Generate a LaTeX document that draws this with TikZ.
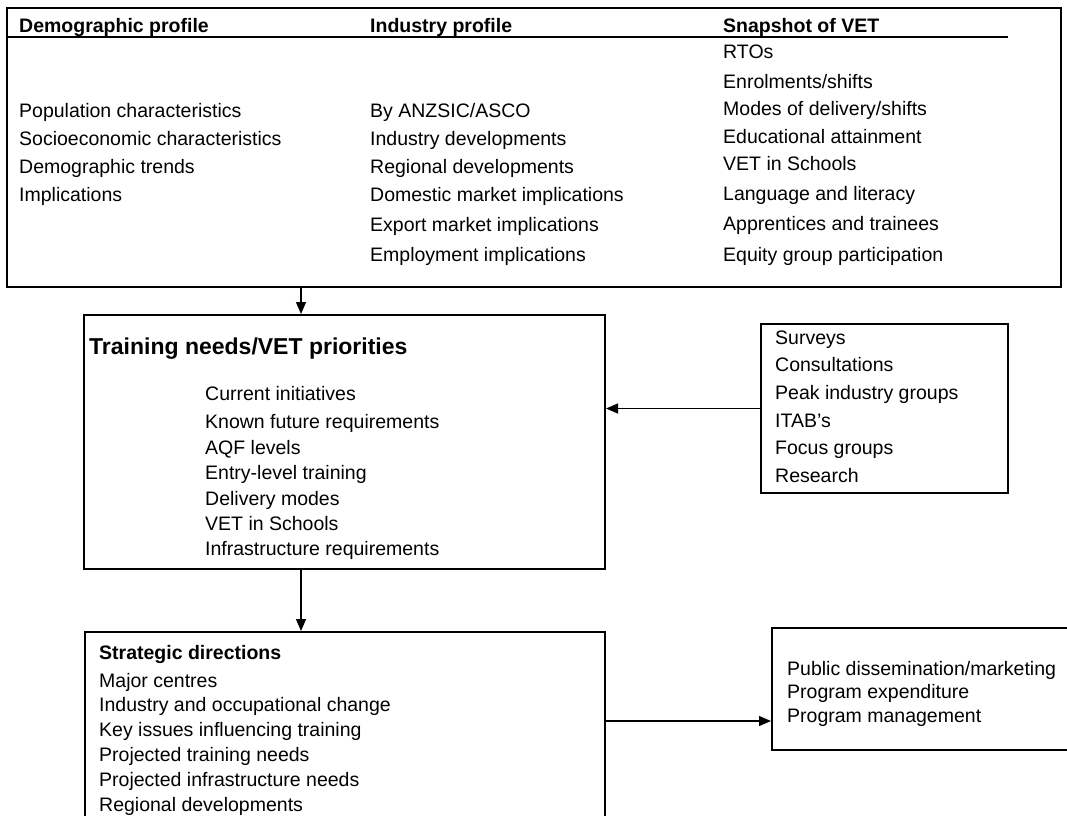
\documentclass[tikz,border=0pt]{standalone}
\usepackage{fontspec}
\setmainfont{Liberation Sans}
\usetikzlibrary{arrows.meta}

\tikzset{
  panel/.style={draw, line width=2pt, inner sep=0pt},
  item/.style={anchor=west, inner sep=0pt, text height=14pt, text depth=4pt,
    font=\fontsize{19.5}{23}\selectfont},
  head/.style={item, font=\fontsize{19.5}{23}\selectfont\bfseries},
  flow/.style={line width=1.2pt, -{Triangle[length=12pt,width=10pt]}},
}

\begin{document}
\begin{tikzpicture}[x=1pt,y=-1pt]
  \clip (0,0) rectangle (1067,815);
  % boxes
  \node[panel, minimum width=1054pt, minimum height=279pt] (profile) at (534,147.5) {};
  \node[panel, minimum width=521pt, minimum height=254pt] (needs) at (344.5,442) {};
  \node[panel, minimum width=247pt, minimum height=169pt] (sources) at (884.5,408.5) {};
  \node[panel, minimum width=520pt, minimum height=220pt] (strategy) at (345,742) {};
  \node[panel, minimum width=310pt, minimum height=122pt] (outputs) at (927,689) {};
  \draw[line width=1.5pt] (profile.west |- 0,37) -- (1008,37);

  % profile columns
  \node[head] (demohead) at (19,27) {Demographic profile};
  \node[head] (indhead) at (370,27) {Industry profile};
  \node[head] (vethead) at (723,27) {Snapshot of VET};
  \foreach \t [count=\i] in {Population characteristics, Socioeconomic characteristics,
      Demographic trends, Implications}
    \node[item] (demo\i) at (19,{84+28*\i}) {\t};
  \foreach \y/\t [count=\i] in {112/{By ANZSIC/ASCO}, 140/Industry developments,
      168/Regional developments, 196/Domestic market implications,
      226/Export market implications, 256/Employment implications}
    \node[item] (ind\i) at (370,\y) {\t};
  \foreach \y/\t [count=\i] in {53/RTOs, 83/{Enrolments/shifts}, 110/{Modes of delivery/shifts},
      138/Educational attainment, 165/VET in Schools, 195/Language and literacy,
      225/Apprentices and trainees, 256/Equity group participation}
    \node[item] (vet\i) at (723,\y) {\t};

  % training needs
  \node[item, font=\fontsize{23}{27}\selectfont\bfseries, text height=17pt, text depth=5pt]
    (needshead) at (89,348) {Training needs/VET priorities};
  \foreach \y/\t [count=\i] in {395/Current initiatives, 423/Known future requirements,
      449/AQF levels, 474/Entry-level training, 500/Delivery modes,
      525/VET in Schools, 550/Infrastructure requirements}
    \node[item] (need\i) at (205,\y) {\t};

  % consultation sources
  \foreach \y/\t [count=\i] in {339/Surveys, 366/Consultations, 394.5/Peak industry groups,
      422/ITAB's, 449/Focus groups, 477/Research}
    \node[item] (src\i) at (775,\y) {\t};

  % strategic directions
  \node[head] (strathead) at (99,654) {Strategic directions};
  \foreach \y/\t [count=\i] in {682/Major centres, 706/Industry and occupational change,
      731/Key issues influencing training, 756/Projected training needs,
      781/Projected infrastructure needs, 806/Regional developments}
    \node[item] (strat\i) at (99,\y) {\t};

  % outputs
  \foreach \y/\t [count=\i] in {670/{Public dissemination/marketing},
      693/Program expenditure, 717/Program management}
    \node[item] (out\i) at (787,\y) {\t};

  % connectors
  \coordinate (trunk) at (301,0);
  \coordinate (link) at (0,721);
  \draw[flow] (profile.south -| trunk) -- (needs.north -| trunk);
  \draw[flow] (needs.south -| trunk) -- (strategy.north -| trunk);
  \draw[flow] (sources.west) -- (sources.west -| needs.east);
  \draw[flow] (strategy.east |- link) -- (outputs.west |- link);
\end{tikzpicture}
\end{document}
